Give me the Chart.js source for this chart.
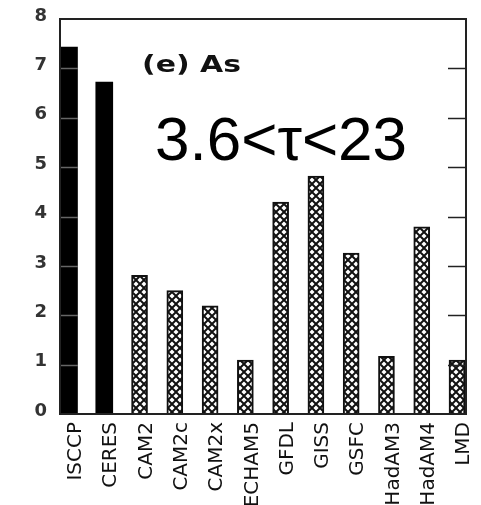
<!DOCTYPE html>
<html>
<head>
<meta charset="utf-8">
<script src="https://cdn.jsdelivr.net/npm/chart.js@4.4.0/dist/chart.umd.min.js"></script>
<style>
    html, body { margin: 0; padding: 0; background: #fff; }
    #wrap { width: 481px; height: 505px; }
</style>
</head>
<body>
<div id="wrap"><canvas id="as-chart" width="481" height="505"></canvas></div>
<script>
var categories = ['ISCCP', 'CERES', 'CAM2', 'CAM2c', 'CAM2x', 'ECHAM5', 'GFDL', 'GISS', 'GSFC', 'HadAM3', 'HadAM4', 'LMD'];
var obsNames = ['ISCCP', 'CERES'];
var obsValues = [7.43, 6.72];
var modelNames = ['CAM2', 'CAM2c', 'CAM2x', 'ECHAM5', 'GFDL', 'GISS', 'GSFC', 'HadAM3', 'HadAM4', 'LMD'];
var modelValues = [2.81, 2.50, 2.19, 1.09, 4.29, 4.82, 3.26, 1.17, 3.79, 1.09];
var yTicks = [0, 1, 2, 3, 4, 5, 6, 7, 8];
var panelLabel = '(e) As';
var tauLabel = '3.6<\u03c4<23';

function toPoints(names, values) {
    var pts = [];
    for (var i = 0; i < names.length; i++) {
        pts.push({ x: categories.indexOf(names[i]), y: values[i] });
    }
    return pts;
}

// crosshatch fill for the model bars
function makeHatch() {
    var c = document.createElement('canvas');
    c.width = 8;
    c.height = 8;
    var g = c.getContext('2d');
    g.fillStyle = '#fff';
    g.fillRect(0, 0, 8, 8);
    g.strokeStyle = '#111';
    g.lineWidth = 2;
    g.beginPath();
    g.moveTo(0, 0); g.lineTo(8, 8);
    g.moveTo(8, 0); g.lineTo(0, 8);
    g.stroke();
    return g.createPattern(c, 'repeat');
}

var framePlugin = {
    id: 'frame',
    afterDatasetsDraw: function(chart) {
        var ctx = chart.ctx;
        var a = chart.chartArea;
        var ys = chart.scales.y;
        ctx.save();
        ctx.lineWidth = 1.5;
        for (var i = 1; i < yTicks.length - 1; i++) {
            var py = Math.round(ys.getPixelForValue(yTicks[i])) + 0.5;
            ctx.strokeStyle = '#222';
            ctx.beginPath();
            ctx.moveTo(a.right - 18, py);
            ctx.lineTo(a.right, py);
            ctx.stroke();
            ctx.strokeStyle = '#666';
            ctx.beginPath();
            ctx.moveTo(a.left, py);
            ctx.lineTo(a.left + 18, py);
            ctx.stroke();
        }
        ctx.strokeStyle = '#222';
        ctx.lineWidth = 2;
        ctx.strokeRect(a.left, a.top, a.right - a.left, a.bottom - a.top);
        ctx.restore();
    },
    afterDraw: function(chart) {
        var ctx = chart.ctx;
        ctx.save();
        ctx.fillStyle = '#111';
        ctx.textBaseline = 'alphabetic';
        ctx.textAlign = 'left';
        // panel label is drawn a bit wider, as in the scanned figure
        ctx.translate(142, 72);
        ctx.scale(1.3, 1);
        ctx.font = 'bold 23px "DejaVu Sans", sans-serif';
        ctx.fillText(panelLabel, 0, 0);
        ctx.restore();

        ctx.save();
        ctx.fillStyle = '#000';
        ctx.textBaseline = 'alphabetic';
        ctx.textAlign = 'left';
        ctx.font = '62px "Liberation Sans", Arial, sans-serif';
        ctx.fillText(tauLabel, 155, 160);
        ctx.restore();
    }
};

var hatch = makeHatch();

var chart = new Chart(document.getElementById('as-chart').getContext('2d'), {
    type: 'bar',
    data: {
        datasets: [{
            label: 'observed',
            data: toPoints(obsNames, obsValues),
            backgroundColor: '#000',
            borderColor: '#000',
            borderWidth: 0,
            barThickness: 17,
            grouped: false
        }, {
            label: 'models',
            data: toPoints(modelNames, modelValues),
            backgroundColor: hatch,
            borderColor: '#111',
            borderWidth: 2,
            barThickness: 16,
            grouped: false
        }]
    },
    options: {
        responsive: false,
        animation: false,
        layout: { padding: { top: 19, right: 15, bottom: 0, left: 0 } },
        plugins: {
            legend: { display: false },
            tooltip: { enabled: false },
            title: { display: false }
        },
        scales: {
            x: {
                type: 'linear',
                offset: false,
                min: -0.255,
                max: 11.255,
                grid: { display: false, drawTicks: false },
                border: { display: false },
                afterFit: function(scale) {
                    scale.height = 91;
                    scale.paddingLeft = 0;
                    scale.paddingRight = 0;
                },
                ticks: {
                    stepSize: 1,
                    includeBounds: false,
                    autoSkip: false,
                    minRotation: 90,
                    maxRotation: 90,
                    padding: 8,
                    labelOffset: 7,
                    color: '#111',
                    font: { family: '"DejaVu Sans", sans-serif', size: 20 },
                    callback: function(v) {
                        return categories[v] !== undefined ? categories[v] : '';
                    }
                }
            },
            y: {
                min: 0,
                max: 8,
                grid: { display: false, drawTicks: false },
                border: { display: false },
                afterFit: function(scale) {
                    scale.width = 60;
                    scale.paddingTop = 0;
                    scale.paddingBottom = 0;
                },
                ticks: {
                    stepSize: 1,
                    padding: 13,
                    labelOffset: -3,
                    color: '#333',
                    font: { family: '"DejaVu Sans", sans-serif', size: 18, weight: 'bold' }
                }
            }
        }
    },
    plugins: [framePlugin]
});
</script>
</body>
</html>
